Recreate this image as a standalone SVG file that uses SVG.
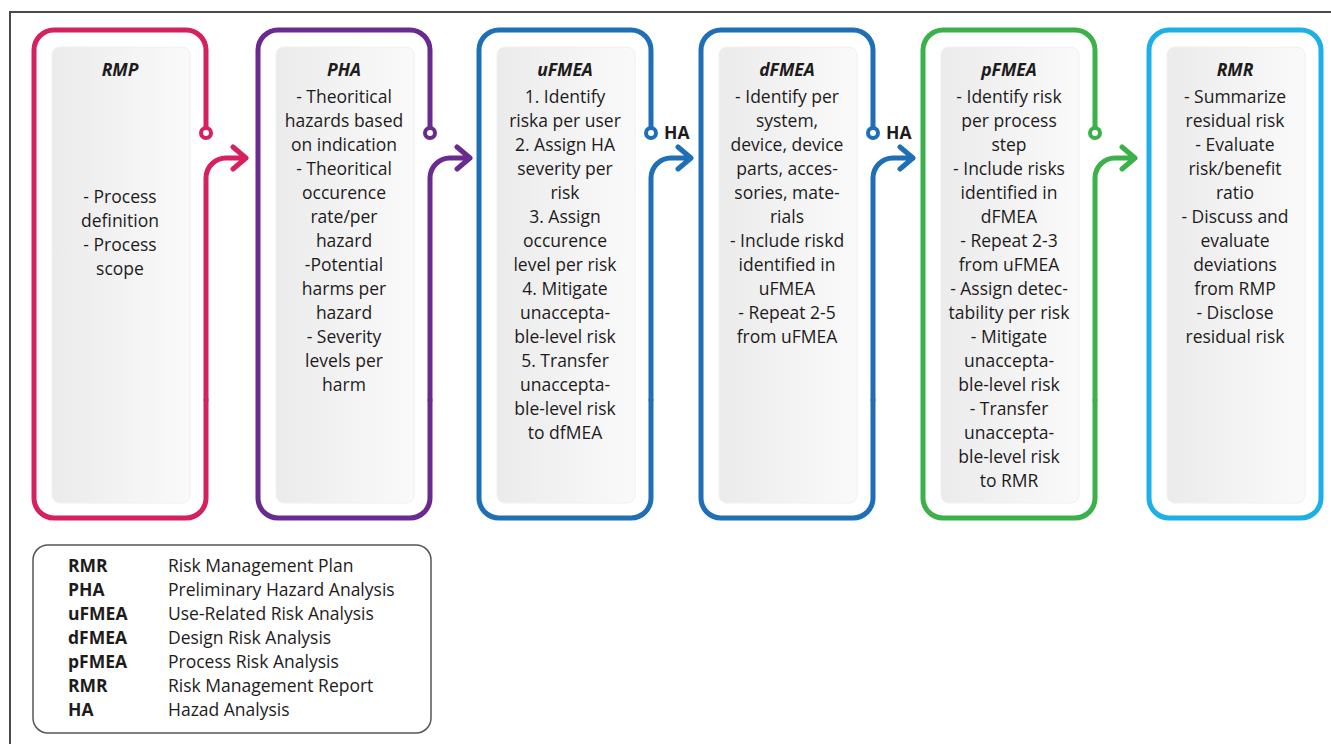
<svg xmlns="http://www.w3.org/2000/svg" width="1331" height="744" viewBox="0 0 1331 744">
<defs>
<linearGradient id="panel" x1="0" y1="0" x2="1" y2="0">
<stop offset="0" stop-color="#ebebeb"/>
<stop offset="1" stop-color="#fafafa"/>
</linearGradient>
<style>
.frame{fill:none;stroke:#4a4a4a;stroke-width:2}
.outline{fill:none;stroke-width:5;stroke-linecap:round;stroke-linejoin:round}
.panel{fill:url(#panel);stroke:#f0f0f0;stroke-width:1}
.dot{fill:#fff;stroke-width:4}
.arrow{fill:none;stroke-width:5;stroke-linecap:round;stroke-linejoin:round}
.title{font-family:"Open Sans","Liberation Sans",sans-serif;font-size:17.5px;font-weight:bold;font-style:italic;fill:#1e1b1c;text-anchor:middle}
.body{font-family:"Open Sans","Liberation Sans",sans-serif;font-size:17.5px;fill:#1e1b1c;text-anchor:middle}
.ha{font-family:"Open Sans","Liberation Sans",sans-serif;font-size:17.5px;font-weight:bold;fill:#1e1b1c}
.lgA{font-family:"Open Sans","Liberation Sans",sans-serif;font-size:17.5px;font-weight:bold;fill:#1e1b1c}
.lgB{font-family:"Open Sans","Liberation Sans",sans-serif;font-size:17.5px;fill:#1e1b1c}
.pink{stroke:#d7215e}.purple{stroke:#6a2b90}.blue{stroke:#1f6fb6}.green{stroke:#3cb14a}.sky{stroke:#1cb0e6}
</style>
</defs>
<rect width="1331" height="744" fill="#fff"/>
<path class="frame" d="M10,744 V12 H1331"/>

<g id="node-rmp">
<path class="outline pink" d="M206,128 V50 A20,20 0 0 0 186,30 H54 A20,20 0 0 0 34,50 V498 A20,20 0 0 0 54,518 H186 A20,20 0 0 0 206,498 V400"/>
<rect class="panel" x="52" y="47" width="138" height="456" rx="8"/>
<circle class="dot pink" cx="206" cy="133" r="5"/>
<text class="title" x="120" y="76">RMP</text>
<text class="body" x="120" y="203">- Process<tspan x="120" dy="24">definition</tspan><tspan x="120" dy="24">- Process</tspan><tspan x="120" dy="24">scope</tspan></text>
</g>

<g id="node-pha">
<path class="outline purple" d="M430,128 V50 A20,20 0 0 0 410,30 H278 A20,20 0 0 0 258,50 V498 A20,20 0 0 0 278,518 H410 A20,20 0 0 0 430,498 V400"/>
<rect class="panel" x="276" y="47" width="138" height="456" rx="8"/>
<circle class="dot purple" cx="430" cy="133" r="5"/>
<text class="title" x="344" y="76">PHA</text>
<text class="body" x="344" y="103">- Theoritical<tspan x="344" dy="24">hazards based</tspan><tspan x="344" dy="24">on indication</tspan><tspan x="344" dy="24">- Theoritical</tspan><tspan x="344" dy="24">occurence</tspan><tspan x="344" dy="24">rate/per</tspan><tspan x="344" dy="24">hazard</tspan><tspan x="344" dy="24">-Potential</tspan><tspan x="344" dy="24">harms per</tspan><tspan x="344" dy="24">hazard</tspan><tspan x="344" dy="24">- Severity</tspan><tspan x="344" dy="24">levels per</tspan><tspan x="344" dy="24">harm</tspan></text>
</g>

<g id="node-ufmea">
<path class="outline blue" d="M651,128 V50 A20,20 0 0 0 631,30 H499 A20,20 0 0 0 479,50 V498 A20,20 0 0 0 499,518 H631 A20,20 0 0 0 651,498 V400"/>
<rect class="panel" x="497" y="47" width="138" height="456" rx="8"/>
<circle class="dot blue" cx="651" cy="133" r="5"/>
<text class="title" x="565" y="76">uFMEA</text>
<text class="body" x="565" y="103">1. Identify<tspan x="565" dy="24">riska per user</tspan><tspan x="565" dy="24">2. Assign HA</tspan><tspan x="565" dy="24">severity per</tspan><tspan x="565" dy="24">risk</tspan><tspan x="565" dy="24">3. Assign</tspan><tspan x="565" dy="24">occurence</tspan><tspan x="565" dy="24">level per risk</tspan><tspan x="565" dy="24">4. Mitigate</tspan><tspan x="565" dy="24">unaccepta-</tspan><tspan x="565" dy="24">ble-level risk</tspan><tspan x="565" dy="24">5. Transfer</tspan><tspan x="565" dy="24">unaccepta-</tspan><tspan x="565" dy="24">ble-level risk</tspan><tspan x="565" dy="24">to dfMEA</tspan></text>
</g>

<g id="node-dfmea">
<path class="outline blue" d="M873,128 V50 A20,20 0 0 0 853,30 H721 A20,20 0 0 0 701,50 V498 A20,20 0 0 0 721,518 H853 A20,20 0 0 0 873,498 V400"/>
<rect class="panel" x="719" y="47" width="138" height="456" rx="8"/>
<circle class="dot blue" cx="873" cy="133" r="5"/>
<text class="title" x="787" y="76">dFMEA</text>
<text class="body" x="787" y="103">- Identify per<tspan x="787" dy="24">system,</tspan><tspan x="787" dy="24">device, device</tspan><tspan x="787" dy="24">parts, acces-</tspan><tspan x="787" dy="24">sories, mate-</tspan><tspan x="787" dy="24">rials</tspan><tspan x="787" dy="24">- Include riskd</tspan><tspan x="787" dy="24">identified in</tspan><tspan x="787" dy="24">uFMEA</tspan><tspan x="787" dy="24">- Repeat 2-5</tspan><tspan x="787" dy="24">from uFMEA</tspan></text>
</g>

<g id="node-pfmea">
<path class="outline green" d="M1095,128 V50 A20,20 0 0 0 1075,30 H943 A20,20 0 0 0 923,50 V498 A20,20 0 0 0 943,518 H1075 A20,20 0 0 0 1095,498 V400"/>
<rect class="panel" x="941" y="47" width="138" height="456" rx="8"/>
<circle class="dot green" cx="1095" cy="133" r="5"/>
<text class="title" x="1009" y="76">pFMEA</text>
<text class="body" x="1009" y="103">- Identify risk<tspan x="1009" dy="24">per process</tspan><tspan x="1009" dy="24">step</tspan><tspan x="1009" dy="24">- Include risks</tspan><tspan x="1009" dy="24">identified in</tspan><tspan x="1009" dy="24">dFMEA</tspan><tspan x="1009" dy="24">- Repeat 2-3</tspan><tspan x="1009" dy="24">from uFMEA</tspan><tspan x="1009" dy="24">- Assign detec-</tspan><tspan x="1009" dy="24">tability per risk</tspan><tspan x="1009" dy="24">- Mitigate</tspan><tspan x="1009" dy="24">unaccepta-</tspan><tspan x="1009" dy="24">ble-level risk</tspan><tspan x="1009" dy="24">- Transfer</tspan><tspan x="1009" dy="24">unaccepta-</tspan><tspan x="1009" dy="24">ble-level risk</tspan><tspan x="1009" dy="24">to RMR</tspan></text>
</g>

<g id="node-rmr">
<rect class="outline sky" x="1149" y="30" width="172" height="488" rx="20"/>
<rect class="panel" x="1167" y="47" width="138" height="456" rx="8"/>
<text class="title" x="1235" y="76">RMR</text>
<text class="body" x="1235" y="103">- Summarize<tspan x="1235" dy="24">residual risk</tspan><tspan x="1235" dy="24">- Evaluate</tspan><tspan x="1235" dy="24">risk/benefit</tspan><tspan x="1235" dy="24">ratio</tspan><tspan x="1235" dy="24">- Discuss and</tspan><tspan x="1235" dy="24">evaluate</tspan><tspan x="1235" dy="24">deviations</tspan><tspan x="1235" dy="24">from RMP</tspan><tspan x="1235" dy="24">- Disclose</tspan><tspan x="1235" dy="24">residual risk</tspan></text>
</g>

<g id="connectors">
<path class="arrow pink" d="M206,400 V178 A20,20 0 0 1 226,158 H246 M233,147 L246,158 L233,169"/>
<path class="arrow purple" d="M430,400 V178 A20,20 0 0 1 450,158 H470 M457,147 L470,158 L457,169"/>
<path class="arrow blue" d="M651,400 V178 A20,20 0 0 1 671,158 H691 M678,147 L691,158 L678,169"/>
<path class="arrow blue" d="M873,400 V178 A20,20 0 0 1 893,158 H913 M900,147 L913,158 L900,169"/>
<path class="arrow green" d="M1095,400 V178 A20,20 0 0 1 1115,158 H1135 M1122,147 L1135,158 L1122,169"/>
<text class="ha" x="664" y="139">HA</text>
<text class="ha" x="886" y="139">HA</text>
</g>

<g id="legend">
<rect x="33" y="545" width="398" height="188" rx="15" fill="#fff" stroke="#555" stroke-width="1.5"/>
<text class="lgA" x="68" y="572">RMR<tspan x="68" dy="24">PHA</tspan><tspan x="68" dy="24">uFMEA</tspan><tspan x="68" dy="24">dFMEA</tspan><tspan x="68" dy="24">pFMEA</tspan><tspan x="68" dy="24">RMR</tspan><tspan x="68" dy="24">HA</tspan></text>
<text class="lgB" x="168" y="572">Risk Management Plan<tspan x="168" dy="24">Preliminary Hazard Analysis</tspan><tspan x="168" dy="24">Use-Related Risk Analysis</tspan><tspan x="168" dy="24">Design Risk Analysis</tspan><tspan x="168" dy="24">Process Risk Analysis</tspan><tspan x="168" dy="24">Risk Management Report</tspan><tspan x="168" dy="24">Hazad Analysis</tspan></text>
</g>
</svg>
